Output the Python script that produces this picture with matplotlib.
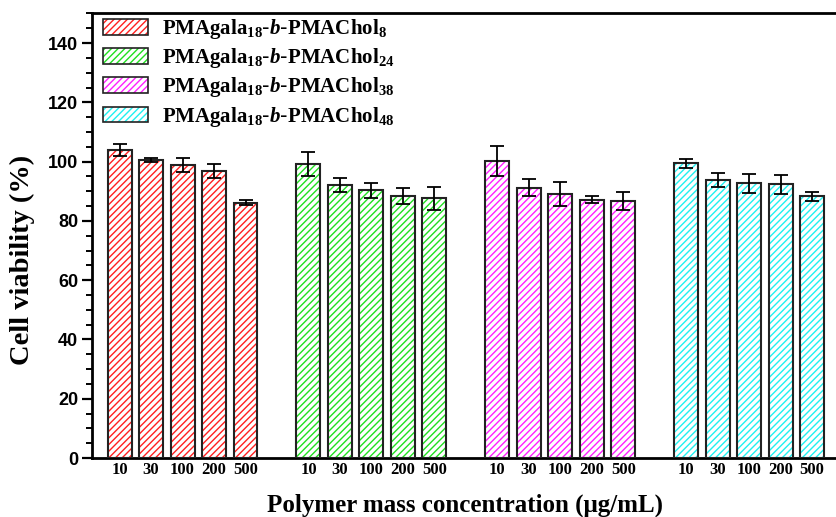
import matplotlib
matplotlib.use("Agg")
import matplotlib.pyplot as plt
from matplotlib.patches import Patch
from matplotlib.ticker import MultipleLocator
import numpy as np

# Concentrations tested for each copolymer
concentrations = ["10", "30", "100", "200", "500"]

series_labels = [
    r"$\mathrm{PMAgala}_{\mathrm{18}}$-$\mathit{b}$-$\mathrm{PMAChol}_{\mathrm{8}}$",
    r"$\mathrm{PMAgala}_{\mathrm{18}}$-$\mathit{b}$-$\mathrm{PMAChol}_{\mathrm{24}}$",
    r"$\mathrm{PMAgala}_{\mathrm{18}}$-$\mathit{b}$-$\mathrm{PMAChol}_{\mathrm{38}}$",
    r"$\mathrm{PMAgala}_{\mathrm{18}}$-$\mathit{b}$-$\mathrm{PMAChol}_{\mathrm{48}}$",
]
series_colors = ["#ff2020", "#20e020", "#ff20ff", "#20f0f0"]

# Cell viability (%) and standard deviation per concentration
viability_chol8 = [103.9, 100.6, 98.8, 96.9, 86.2]
error_chol8 = [2.0, 0.7, 2.4, 2.3, 0.8]
viability_chol24 = [99.2, 92.1, 90.3, 88.3, 87.6]
error_chol24 = [4.0, 2.4, 2.6, 2.7, 4.0]
viability_chol38 = [100.2, 91.2, 89.1, 87.1, 86.7]
error_chol38 = [5.2, 2.8, 4.0, 1.2, 3.0]
viability_chol48 = [99.4, 93.8, 92.7, 92.3, 88.3]
error_chol48 = [1.6, 2.3, 3.2, 3.3, 1.6]

values = [viability_chol8, viability_chol24, viability_chol38, viability_chol48]
errors = [error_chol8, error_chol24, error_chol38, error_chol48]

plt.rcParams["mathtext.fontset"] = "custom"
plt.rcParams["mathtext.rm"] = "Liberation Serif:bold"
plt.rcParams["mathtext.it"] = "Liberation Serif:italic:bold"
plt.rcParams["mathtext.bf"] = "Liberation Serif:bold"
plt.rcParams["hatch.linewidth"] = 1.0

fig = plt.figure(figsize=(8.37, 5.17), dpi=100)
ax = fig.add_axes([0.110, 0.114, 0.890, 0.860])

group_stride = 6
bar_width = 0.76
handles = []
tick_pos = []
tick_lab = []
for g, (vals, errs, color) in enumerate(zip(values, errors, series_colors)):
    x = np.arange(len(vals)) + g * group_stride
    # colored hatch layer
    ax.bar(x, vals, width=bar_width, facecolor="white", edgecolor=color,
           hatch="/////", linewidth=0, zorder=2)
    # dark outline with error bars
    ax.bar(x, vals, width=bar_width, facecolor="none", edgecolor="#222222",
           linewidth=1.5, zorder=3, yerr=errs, capsize=5,
           error_kw=dict(ecolor="black", elinewidth=1.3, capthick=1.3, zorder=4))
    h_fill = Patch(facecolor="white", edgecolor=color, hatch="/////", linewidth=0)
    h_edge = Patch(facecolor="none", edgecolor="#222222", linewidth=1.2)
    handles.append((h_fill, h_edge))
    tick_pos.extend(x)
    tick_lab.extend(concentrations)

ax.set_xlim(-0.874, 22.79)
ax.set_ylim(0, 150)
ax.set_xticks(tick_pos)
ax.set_xticklabels(tick_lab, fontfamily="Liberation Serif", fontweight="bold", fontsize=12)
ax.tick_params(axis="x", length=0, pad=3)

ax.yaxis.set_major_locator(MultipleLocator(20))
ax.yaxis.set_minor_locator(MultipleLocator(5))
ax.tick_params(axis="y", which="major", direction="out", length=7, width=1.6, pad=3)
ax.tick_params(axis="y", which="minor", direction="out", length=4, width=1.4)
for lab in ax.get_yticklabels():
    lab.set_fontfamily("Liberation Sans")
    lab.set_fontweight("bold")
    lab.set_fontsize(13)

for side in ["left", "bottom", "top"]:
    ax.spines[side].set_linewidth(2.0)
ax.spines["right"].set_visible(False)

ax.set_ylabel("Cell viability (%)", fontfamily="Liberation Serif", fontweight="bold",
              fontsize=20.5)
ax.yaxis.set_label_coords(-0.077, 0.445)
ax.set_xlabel("Polymer mass concentration (\u03bcg/mL)", fontfamily="Liberation Serif",
              fontweight="bold", fontsize=18, labelpad=11)

ax.legend(handles, series_labels, loc="upper left", frameon=False, fontsize=15,
          handlelength=2.16, handleheight=0.77, handletextpad=0.67, labelspacing=0.25,
          borderpad=0, borderaxespad=0,
          bbox_to_anchor=(103 / 837, 1 - 17 / 517), bbox_transform=fig.transFigure)

fig.savefig("out.png", dpi=100)
